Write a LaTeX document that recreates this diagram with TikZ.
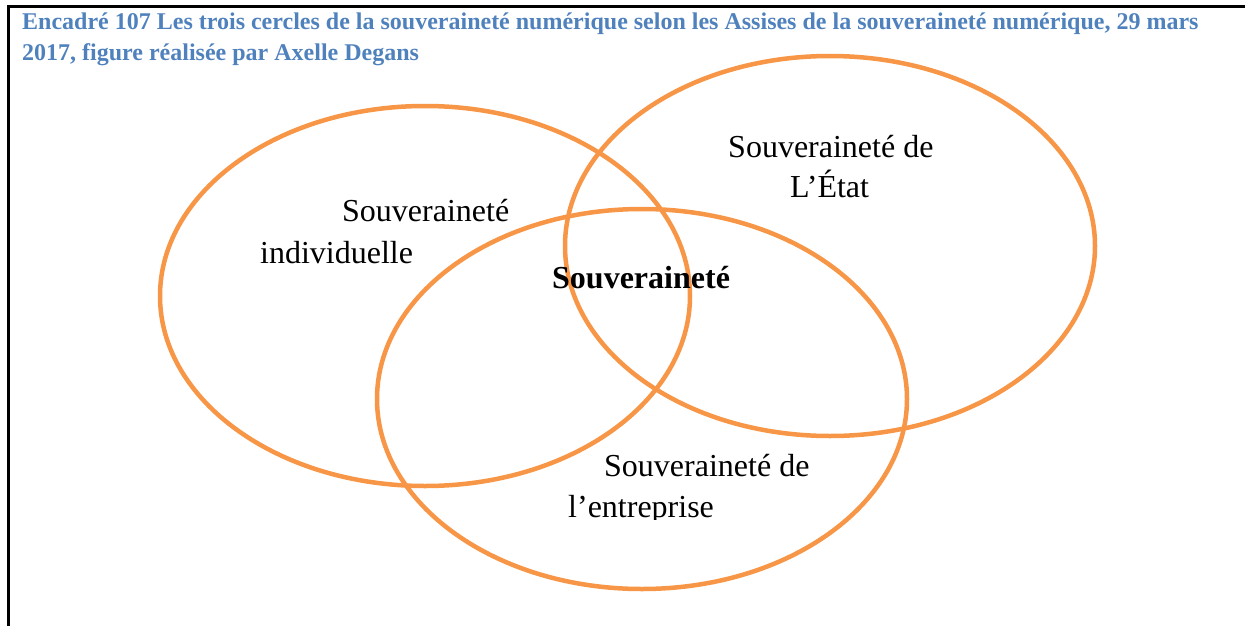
\documentclass[tikz,border=0pt]{standalone}
\usepackage{fontspec}
\setmainfont{Liberation Serif}
\definecolor{ttlblue}{HTML}{4F81BD}
\definecolor{vorange}{HTML}{F79646}
\tikzset{
  ring/.style={draw=vorange, line width=4.5pt},
  lbl/.style={anchor=base west, inner sep=0pt, font=\fontsize{32}{40}\selectfont},
  ttl/.style={anchor=base west, inner sep=0pt, text=ttlblue, font=\bfseries\fontsize{24}{30}\selectfont},
  frame/.style={draw=black, line width=3pt}
}
\begin{document}
\begin{tikzpicture}[x=1pt,y=-1pt]
\useasboundingbox (0,0) rectangle (1245,626);
% frame
\coordinate (fa) at (8,626);
\coordinate (fb) at (8,7);
\coordinate (fc) at (1245,7);
\draw[frame] (fa) -- (fb) -- (fc);
% title
\node[ttl] (t1) at (22,30) {Encadré 107 Les trois cercles de la souveraineté numérique selon les Assises de la souveraineté numérique, 29 mars};
\node[ttl] (t2) at (22,60) {2017, figure réalisée par Axelle Degans};
% circles
\draw[ring] (425,296) ellipse [x radius=265, y radius=190];
\draw[ring] (830,246) ellipse [x radius=265, y radius=190];
\draw[ring] (642,399) ellipse [x radius=265, y radius=190];
% labels
\node[lbl] (i1) at (342,221) {Souveraineté};
\node[lbl] (i2) at (260,263) {individuelle};
\node[lbl] (e1) at (728,157) {Souveraineté de};
\node[lbl] (e2) at (790,197) {L’État};
\node[lbl, font=\bfseries\fontsize{32}{40}\selectfont] (c) at (552,288) {Souveraineté};
\node[lbl] (p1) at (604,476) {Souveraineté de};
\begin{scope}
\clip (540,480) rectangle (900,519);
\node[lbl] (p2) at (568,517) {l’entreprise};
\end{scope}
\end{tikzpicture}
\end{document}
